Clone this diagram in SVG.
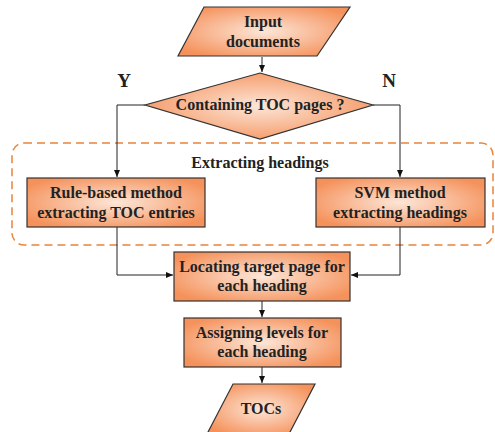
<svg xmlns="http://www.w3.org/2000/svg" width="495" height="432" viewBox="0 0 495 432">
<defs>
<radialGradient id="g" cx="50%" cy="50%" r="60%">
<stop offset="0" stop-color="#FCE6D8"/>
<stop offset="1" stop-color="#F5915A"/>
</radialGradient>
<marker id="arr" markerWidth="8" markerHeight="8" refX="7" refY="4" orient="auto" markerUnits="userSpaceOnUse">
<path d="M0,1 L7,4 L0,7 z" fill="#111"/>
</marker>
<style>
.s{fill:url(#g);stroke:#333;stroke-width:1.2}
.t{font-family:"Liberation Serif","Times New Roman",serif;font-weight:bold;font-size:16px;fill:#222;text-anchor:middle}
.yn{font-size:19px}
.c{fill:none;stroke:#222;stroke-width:1;marker-end:url(#arr)}
</style>
</defs>
<rect x="12" y="143" width="481" height="102" rx="12" fill="none" stroke="#E8843C" stroke-width="1.5" stroke-dasharray="8,5"/>
<text class="t" x="260" y="168">Extracting headings</text>
<text class="t yn" x="124" y="87">Y</text>
<text class="t yn" x="389" y="87">N</text>
<g id="connectors">
<path class="c" d="M262,57 V72"/>
<path class="c" d="M145,105 H117 V177"/>
<path class="c" d="M373,105 H400 V177"/>
<path class="c" d="M117,227 V275 H173"/>
<path class="c" d="M400,227 V275 H351"/>
<path class="c" d="M262,301 V317"/>
<path class="c" d="M262,367 V383"/>
</g>
<g id="input">
<polygon class="s" points="204,7 350,7 317,56 178,56"/>
<text class="t" x="263" y="27">Input</text>
<text class="t" x="263" y="47">documents</text>
</g>
<g id="decision">
<polygon class="s" points="260,73 373,105 260,139 145,105"/>
<text class="t" x="260" y="110">Containing TOC pages ?</text>
</g>
<g id="rule">
<rect class="s" x="27" y="178" width="178" height="49"/>
<text class="t" x="116" y="198">Rule-based method</text>
<text class="t" x="116" y="218">extracting TOC entries</text>
</g>
<g id="svm">
<rect class="s" x="316" y="178" width="169" height="49"/>
<text class="t" x="400" y="198">SVM method</text>
<text class="t" x="400" y="218">extracting headings</text>
</g>
<g id="locating">
<rect class="s" x="174" y="252" width="176" height="49"/>
<text class="t" x="262" y="272">Locating target page for</text>
<text class="t" x="262" y="291">each heading</text>
</g>
<g id="assigning">
<rect class="s" x="184" y="318" width="157" height="49"/>
<text class="t" x="262" y="338">Assigning levels for</text>
<text class="t" x="262" y="357">each heading</text>
</g>
<g id="tocs">
<polygon class="s" points="233,384 315,384 289,434 207,434"/>
<text class="t" x="261" y="414">TOCs</text>
</g>
</svg>
